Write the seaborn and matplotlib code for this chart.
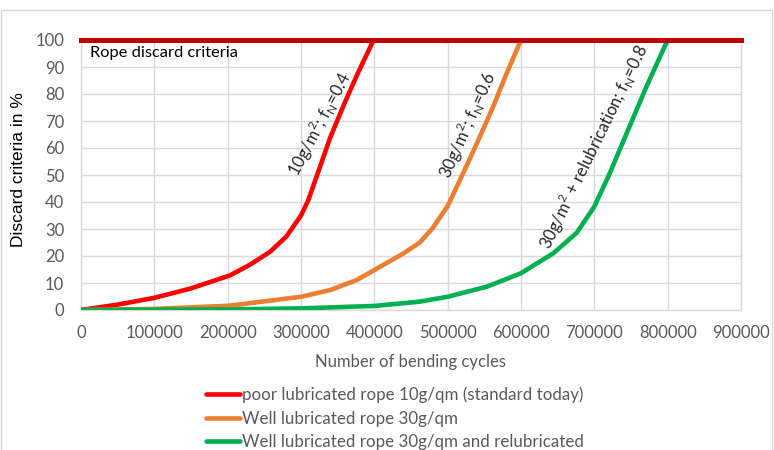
import pandas as pd
import numpy as np
import matplotlib.pyplot as plt
import seaborn as sns
from matplotlib.patches import Rectangle

sns.set_theme(style="white")
plt.rcParams['font.family'] = ['Lato', 'DejaVu Sans']
plt.rcParams['mathtext.fontset'] = 'custom'
plt.rcParams['mathtext.rm'] = 'Lato'

# --- data ---
series_names = ['poor lubricated rope 10g/qm (standard today)',
                'Well lubricated rope 30g/qm',
                'Well lubricated rope 30g/qm and relubricated']

red_x = [0, 50000, 100000, 150000, 203000, 230000, 258000, 280000, 300000, 310000,
         322000, 340000, 360000, 378000, 399000]
red_y = [0, 2, 4.5, 8, 12.8, 16.7, 21.6, 27.2, 35, 40.7,
         50, 64, 77, 88, 100]

orange_x = [0, 100000, 203000, 300000, 340000, 376000, 400000, 440000, 462000, 480000,
            500000, 521000, 542000, 562000, 580500, 600000]
orange_y = [0, 0.4, 1.6, 4.9, 7.4, 11.1, 14.8, 21, 25, 30.5,
            38.5, 50.6, 63, 75.3, 87.7, 100]

green_x = [0, 200000, 300000, 400000, 462000, 500000, 553000, 600000, 644000, 676000,
           700000, 721000, 744000, 771000, 800000]
green_y = [0, 0.2, 0.6, 1.5, 3.1, 4.9, 8.6, 13.6, 21, 28.6,
           38.3, 50.6, 65.4, 82.7, 100]

discard_level = 100
x_ticks = np.arange(0, 900001, 100000)
y_ticks = np.arange(0, 101, 10)

df = pd.concat([
    pd.DataFrame({'cycles': red_x, 'criteria': red_y, 'rope': series_names[0]}),
    pd.DataFrame({'cycles': orange_x, 'criteria': orange_y, 'rope': series_names[1]}),
    pd.DataFrame({'cycles': green_x, 'criteria': green_y, 'rope': series_names[2]}),
])
palette = dict(zip(series_names, ['#FF0000', '#ED7D31', '#00B050']))

fig = plt.figure(figsize=(7.74, 4.5), dpi=100)
ax = fig.add_axes([81 / 774, 1 - 310 / 450, 660 / 774, 270 / 450])

sns.lineplot(data=df, x='cycles', y='criteria', hue='rope', palette=palette,
             linewidth=3.3, sort=False, ax=ax, legend=True, zorder=3,
             solid_joinstyle='round', solid_capstyle='round')
ax.axhline(discard_level, color='#C00000', linewidth=3.6, zorder=4,
           clip_on=False, solid_capstyle='projecting')

ax.set_xlim(0, 900000)
ax.set_ylim(0, 100)
ax.set_xticks(x_ticks)
ax.set_xticklabels([str(v) for v in x_ticks])
ax.set_yticks(y_ticks)
ax.grid(True, color='#D9D9D9', linewidth=1)
for s in ax.spines.values():
    s.set_color('#D9D9D9')
    s.set_linewidth(1)
ax.tick_params(axis='both', length=0, labelsize=12, labelcolor='#595959')
ax.tick_params(axis='x', pad=11)
ax.tick_params(axis='y', pad=12)

ax.set_xlabel('Number of bending cycles', fontsize=12, color='#595959', labelpad=9)
ax.set_ylabel('Discard criteria in %', fontsize=12.5, color='black',
              family=['Liberation Sans', 'DejaVu Sans'])
ax.yaxis.set_label_coords(-0.083, 0.52)

ax.text(12000, 95.3, 'Rope discard criteria', fontsize=11.8, color='black',
        ha='left', va='center', zorder=5)
ax.text(325000, 69, r'10g/m$^\mathregular{2}$; f$_\mathregular{N}$=0.4', fontsize=12,
        rotation=62, ha='center', va='center', rotation_mode='anchor', zorder=5)
ax.text(527000, 68.5, r'30g/m$^\mathregular{2}$; f$_\mathregular{N}$=0.6', fontsize=12,
        rotation=66, ha='center', va='center', rotation_mode='anchor', zorder=5)
ax.text(700000, 60.4, r'30g/m$^\mathregular{2}$ + relubrication; f$_\mathregular{N}$=0.8',
        fontsize=12, rotation=64, ha='center', va='center', rotation_mode='anchor', zorder=5)

handles, labels = ax.get_legend_handles_labels()
ax.get_legend().remove()
leg = fig.legend(handles, labels, loc='upper left', bbox_to_anchor=(198 / 774, 1 - 378 / 450),
                 frameon=False, fontsize=12.2, handlelength=2.0, handletextpad=0.12,
                 labelspacing=0.45, borderpad=0)
for t in leg.get_texts():
    t.set_color('#595959')
for h in leg.get_lines():
    h.set_linewidth(3.3)

# light outer frame like the original chart area
fig.patches.append(Rectangle((1 / 774, -0.1), 771 / 774, 1.1 - 10 / 450,
                             transform=fig.transFigure, fill=False,
                             edgecolor='#D9D9D9', linewidth=1))

fig.savefig('out.png', dpi=100)
